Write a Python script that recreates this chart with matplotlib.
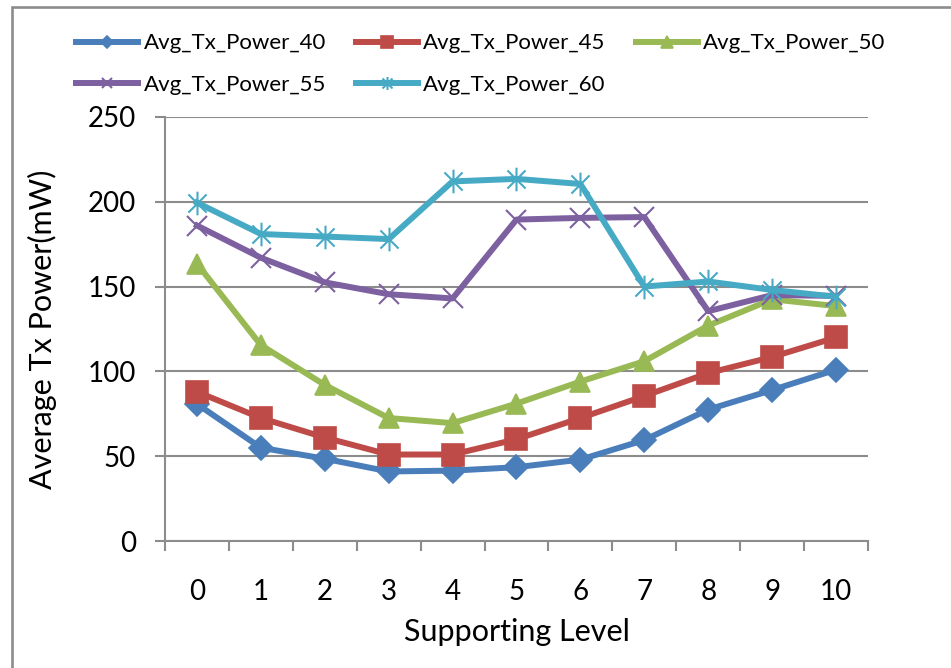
import matplotlib.pyplot as plt
from matplotlib.path import Path
from matplotlib.patches import Rectangle

plt.rcParams['font.family'] = ['Lato', 'DejaVu Sans']

levels = [0, 1, 2, 3, 4, 5, 6, 7, 8, 9, 10]

pw40 = [80.8, 55, 48.5, 41, 41.5, 43.5, 48, 59.5, 77.5, 89, 101]
pw45 = [88, 72.5, 61, 51, 51, 60, 72.5, 85.5, 99, 108.5, 120]
pw50 = [163.5, 115.5, 92, 72.5, 69.5, 81, 94, 106, 127, 142.5, 138.5]
pw55 = [186, 167, 152.5, 145.5, 143, 189.5, 190.5, 191, 135.5, 145, 144.5]
pw60 = [199.5, 181, 179.5, 178, 212, 213.5, 210.5, 150, 153, 148, 144]

names = ['Avg_Tx_Power_40', 'Avg_Tx_Power_45', 'Avg_Tx_Power_50',
         'Avg_Tx_Power_55', 'Avg_Tx_Power_60']
colors = ['#4A7EBB', '#BE4B48', '#98B954', '#7D60A0', '#46AAC5']

# excel style asterisk: x with a vertical bar
star = Path([(-1, -1), (1, 1), (-1, 1), (1, -1), (0, -1.3), (0, 1.3)],
            [Path.MOVETO, Path.LINETO, Path.MOVETO, Path.LINETO, Path.MOVETO, Path.LINETO])

fig = plt.figure(figsize=(9.51, 6.68), dpi=100)
ax = fig.add_axes([0.1735, 0.1901, 0.7392, 0.6348])

# outer chart frame (only left and top edges are inside the picture)
fig.patches.append(Rectangle((11.5 / 951, -0.1), 1.2, 1 - 7 / 668 + 0.1, transform=fig.transFigure,
                             fill=False, edgecolor='#8c8c8c', linewidth=1.9, clip_on=False))

series = [pw40, pw45, pw50, pw55, pw60]
markers = ['D', 's', '^', 'x', star]
msizes = [12, 16, 15, 14, 17]
lines = []
for vals, name, c, m, ms in zip(series, names, colors, markers, msizes):
    filled = m in ('D', 's', '^')
    ln, = ax.plot(levels, vals, color=c, linewidth=4.3, marker=m, markersize=ms,
                  markerfacecolor=c, markeredgecolor=c, markeredgewidth=1.2 if filled else 1.5,
                  label=name, zorder=3)
    lines.append(ln)

ax.set_xlim(-0.5, 10.5)
ax.set_ylim(0, 250)
ax.set_yticks([0, 50, 100, 150, 200, 250])
ax.set_xticks(levels)
ax.set_xticks([x - 0.5 for x in range(12)], minor=True)
ax.grid(axis='y', color='#8c8c8c', linewidth=1.5, zorder=0)
ax.set_axisbelow(True)
for s in ('top', 'right'):
    ax.spines[s].set_visible(False)
for s in ('left', 'bottom'):
    ax.spines[s].set_color('#8c8c8c')
    ax.spines[s].set_linewidth(1.5)
ax.tick_params(axis='y', which='major', length=7, width=1.5, color='#8c8c8c',
               labelsize=20, pad=14)
ax.tick_params(axis='x', which='major', length=0, labelsize=20, pad=27)
ax.tick_params(axis='x', which='minor', length=7, width=1.5, color='#8c8c8c')

ax.set_xlabel('Supporting Level', fontsize=22, labelpad=10)
ax.set_ylabel('Average Tx Power(mW)', fontsize=22, labelpad=22)

# legend fills by column, so order handles to read row by row
order = [0, 3, 1, 4, 2]
fig.legend([lines[i] for i in order], [names[i] for i in order],
           loc='upper left', bbox_to_anchor=(0.059, 0.98), ncol=3, frameon=False,
           fontsize=16, markerscale=0.55, handlelength=2.8, handletextpad=0.23,
           columnspacing=1.35, labelspacing=0.98)

fig.savefig('out.png', dpi=100)
